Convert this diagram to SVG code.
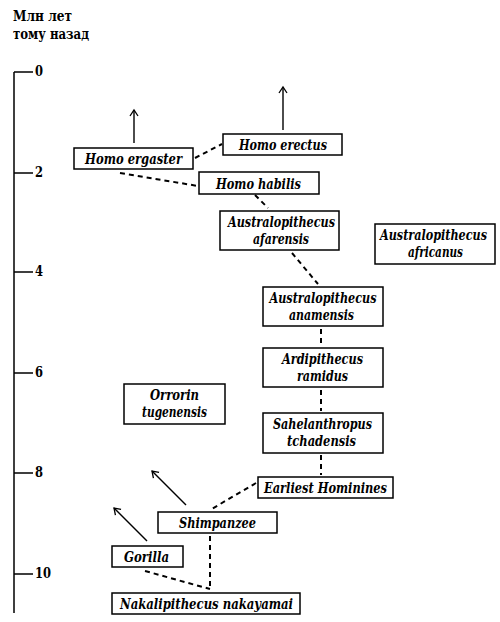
<svg xmlns="http://www.w3.org/2000/svg" width="500" height="622" viewBox="0 0 500 622">
<style>
.n text{font-style:italic;font-size:15px;text-anchor:middle}
.n rect{fill:#fff;stroke:#000;stroke-width:1.5}
.ax{stroke:#000;stroke-width:1.5;fill:none}
.lbl{font-size:15px}
.d{stroke:#000;stroke-width:2;stroke-dasharray:5,4;fill:none}
.a{stroke:#000;stroke-width:1.4;fill:none;marker-end:url(#ah)}
</style>
<defs>
<marker id="ah" markerWidth="10" markerHeight="10" refX="8" refY="5" orient="auto" markerUnits="userSpaceOnUse">
<path d="M2,1 L8,5 L2,9" fill="none" stroke="#000" stroke-width="1.3"/>
</marker>
</defs>
<rect width="500" height="622" fill="#fff"/>
<g font-family="DejaVu Serif, serif" font-weight="bold" fill="#000">
<g id="axis">
<text class="lbl" x="13" y="21" textLength="59" lengthAdjust="spacingAndGlyphs">Млн лет</text>
<text class="lbl" x="13" y="39" textLength="76" lengthAdjust="spacingAndGlyphs">тому назад</text>
<path class="ax" d="M14,72 V613 M14,72 H33 M14,173 H33 M14,272 H33 M14,373 H33 M14,473 H33 M14,574 H33"/>
<text class="lbl" x="35" y="76" textLength="8" lengthAdjust="spacingAndGlyphs">0</text>
<text class="lbl" x="35" y="177" textLength="8" lengthAdjust="spacingAndGlyphs">2</text>
<text class="lbl" x="35" y="276" textLength="8" lengthAdjust="spacingAndGlyphs">4</text>
<text class="lbl" x="35" y="377" textLength="8" lengthAdjust="spacingAndGlyphs">6</text>
<text class="lbl" x="35" y="477" textLength="8" lengthAdjust="spacingAndGlyphs">8</text>
<text class="lbl" x="35" y="578" textLength="16" lengthAdjust="spacingAndGlyphs">10</text>
</g>
<g id="connectors">
<path class="d" d="M195,158 L222,144"/>
<path class="d" d="M120,173 L198,186"/>
<path class="d" d="M255,195 L268,208"/>
<path class="d" d="M292,253 L318,284"/>
<path class="d" d="M321,329 V346"/>
<path class="d" d="M321,390 V411"/>
<path class="d" d="M321,455 V475"/>
<path class="d" d="M256,483 L210,510"/>
<path class="d" d="M210,536 V590"/>
<path class="d" d="M145,571 L210,589"/>
<path class="a" d="M134,143 V110"/>
<path class="a" d="M283,130 V87"/>
<path class="a" d="M186,505 L152,471"/>
<path class="a" d="M147,541 L114,508"/>
</g>
<g id="homo-ergaster" class="n"><rect x="74" y="148" width="119" height="21"/><text x="133.5" y="164" textLength="97" lengthAdjust="spacingAndGlyphs">Homo ergaster</text></g>
<g id="homo-erectus" class="n"><rect x="223" y="134" width="119" height="21"/><text x="283" y="150" textLength="88" lengthAdjust="spacingAndGlyphs">Homo erectus</text></g>
<g id="homo-habilis" class="n"><rect x="199" y="172" width="120" height="22"/><text x="258.5" y="188.5" textLength="85" lengthAdjust="spacingAndGlyphs">Homo habilis</text></g>
<g id="au-afarensis" class="n"><rect x="220" y="211" width="119" height="39"/><text x="281.5" y="227" textLength="107" lengthAdjust="spacingAndGlyphs">Australopithecus</text><text x="281" y="243.5" textLength="56" lengthAdjust="spacingAndGlyphs">afarensis</text></g>
<g id="au-africanus" class="n"><rect x="375" y="224" width="120" height="40"/><text x="433.5" y="240" textLength="107" lengthAdjust="spacingAndGlyphs">Australopithecus</text><text x="435.5" y="256.5" textLength="55" lengthAdjust="spacingAndGlyphs">africanus</text></g>
<g id="au-anamensis" class="n"><rect x="263" y="287" width="120" height="39"/><text x="323" y="303" textLength="107" lengthAdjust="spacingAndGlyphs">Australopithecus</text><text x="321.5" y="319.5" textLength="65" lengthAdjust="spacingAndGlyphs">anamensis</text></g>
<g id="ardipithecus" class="n"><rect x="263" y="348" width="120" height="39"/><text x="322.5" y="364" textLength="81" lengthAdjust="spacingAndGlyphs">Ardipithecus</text><text x="322.5" y="380.5" textLength="51" lengthAdjust="spacingAndGlyphs">ramidus</text></g>
<g id="sahelanthropus" class="n"><rect x="263" y="413" width="120" height="40"/><text x="322.5" y="429" textLength="99" lengthAdjust="spacingAndGlyphs">Sahelanthropus</text><text x="321.5" y="445.5" textLength="69" lengthAdjust="spacingAndGlyphs">tchadensis</text></g>
<g id="earliest" class="n"><rect x="258" y="477" width="135" height="21"/><text x="325.5" y="493" textLength="123" lengthAdjust="spacingAndGlyphs">Earliest Hominines</text></g>
<g id="orrorin" class="n"><rect x="124" y="384" width="101" height="40"/><text x="174.5" y="400" textLength="49" lengthAdjust="spacingAndGlyphs">Orrorin</text><text x="174.5" y="416.5" textLength="65" lengthAdjust="spacingAndGlyphs">tugenensis</text></g>
<g id="shimpanzee" class="n"><rect x="158" y="512" width="119" height="21"/><text x="217.5" y="528" textLength="77" lengthAdjust="spacingAndGlyphs">Shimpanzee</text></g>
<g id="gorilla" class="n"><rect x="112" y="546" width="71" height="21"/><text x="146.5" y="562" textLength="45" lengthAdjust="spacingAndGlyphs">Gorilla</text></g>
<g id="nakalipithecus" class="n"><rect x="112" y="593" width="188" height="21"/><text x="206.5" y="609" textLength="173" lengthAdjust="spacingAndGlyphs">Nakalipithecus nakayamai</text></g>
</g>
</svg>
